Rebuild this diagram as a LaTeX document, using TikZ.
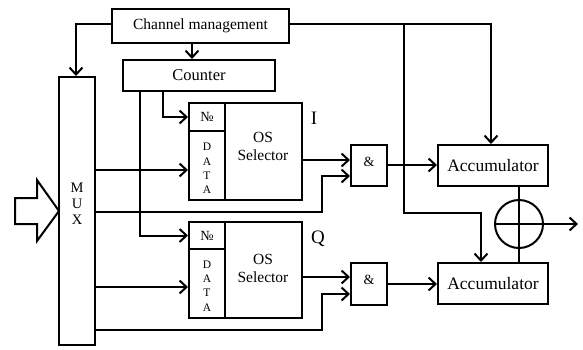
\documentclass[tikz,border=0pt]{standalone}
\usepackage{fontspec}
\setmainfont{Liberation Serif}
\usetikzlibrary{arrows.meta}
\tikzset{
  blk/.style={draw, line width=2pt, rectangle, inner sep=0pt},
  arr/.style={line width=2pt, -{Straight Barb[length=7pt,width=13pt,line width=2pt]}},
  ln/.style={line width=2pt},
  fa/.style={font=\fontsize{15.5}{17}\selectfont},
  fb/.style={font=\fontsize{17.5}{19}\selectfont},
}
\begin{document}
\begin{tikzpicture}[x=1pt,y=-1pt]
\useasboundingbox (0,0) rectangle (583,349);
% boxes
\node[blk, fa, minimum width=177pt, minimum height=34pt] (cm) at (200.5,26) {Channel management};
\node[blk, font=\fontsize{16.5}{18}\selectfont, minimum width=152pt, minimum height=31pt] (cnt) at (199,75.5) {Counter};
\node[blk, minimum width=36pt, minimum height=268pt] (mux) at (77,211) {};
\node[align=center, font=\fontsize{14.5}{16}\selectfont] (muxt) at (77,204) {M\\U\\X};
% I block
\node[blk, font=\fontsize{14}{15}\selectfont, minimum width=36pt, minimum height=28pt] (noI) at (207,117) {№};
\node[blk, minimum width=36pt, minimum height=69pt] (dataI) at (207,165.5) {};
\node[align=center, font=\fontsize{11.5}{14.3}\selectfont] (dataIt) at (207,168.5) {D\\A\\T\\A};
\node[blk, minimum width=77pt, minimum height=97pt] (osI) at (263.5,151.5) {};
\node[align=center, font=\fontsize{15.5}{18}\selectfont] (osIt) at (263,146) {OS\\Selector};
\node[font=\fontsize{19}{20}\selectfont] (lI) at (314,118) {I};
% Q block
\node[blk, font=\fontsize{14}{15}\selectfont, minimum width=36pt, minimum height=27pt] (noQ) at (207,235.5) {№};
\node[blk, minimum width=36pt, minimum height=69pt] (dataQ) at (207,283.5) {};
\node[align=center, font=\fontsize{11.5}{14.3}\selectfont] (dataQt) at (207,286) {D\\A\\T\\A};
\node[blk, minimum width=77pt, minimum height=96pt] (osQ) at (263.5,270) {};
\node[align=center, font=\fontsize{15.5}{18}\selectfont] (osQt) at (263,268.5) {OS\\Selector};
\node[font=\fontsize{19}{20}\selectfont] (lQ) at (318,239) {Q};
% and gates
\node[blk, minimum width=36pt, minimum height=41pt] (andI) at (369,165.5) {};
\node[font=\fontsize{14}{15}\selectfont] (andIt) at (369,162) {\&};
\node[blk, minimum width=36pt, minimum height=42pt] (andQ) at (369,284) {};
\node[font=\fontsize{14}{15}\selectfont] (andQt) at (369,280) {\&};
% accumulators
\node[blk, fb, minimum width=110pt, minimum height=41pt] (accI) at (493,165.5) {Accumulator};
\node[blk, fb, minimum width=110pt, minimum height=41pt] (accQ) at (493,283.5) {Accumulator};
% sum
\node[draw, line width=2pt, circle, minimum size=48pt, inner sep=0pt] (sum) at (519,224) {};
\draw[ln] (sum.north) -- (sum.south) (sum.west) -- (sum.east);
% input arrow
\draw[line width=2pt, line join=miter] (15,198) -- (37,198) -- (37,180) -- (59,211) -- (37,241) -- (37,224) -- (15,224) -- cycle;
% connectors
\coordinate (c1) at (76,24);
\draw[arr] (cm.west |- c1) -| (mux.north -| c1);
\draw[arr] (cm.south -| 192,0) -- (cnt.north -| 192,0);
\coordinate (k1) at (163,0);
\coordinate (k2) at (140,0);
\draw[arr] (cnt.south -| k1) |- (noI.west);
\draw[arr] (cnt.south -| k2) |- (noQ.west);
\draw[arr] (mux.east |- 0,170) -- (dataI.west |- 0,170);
\draw[arr] (mux.east |- 0,287) -- (dataQ.west |- 0,287);
\coordinate (j1) at (322,212);
\coordinate (j2) at (322,330);
\draw[arr] (mux.east |- j1) -- (j1) |- (andI.west |- 0,176);
\draw[arr] (mux.east |- j2) -- (j2) |- (andQ.west |- 0,294);
\draw[arr] (osI.east |- 0,160) -- (andI.west |- 0,160);
\draw[arr] (osQ.east |- 0,277) -- (andQ.west |- 0,277);
\draw[arr] (andI.east |- 0,165) -- (accI.west |- 0,165);
\draw[arr] (andQ.east |- 0,284) -- (accQ.west |- 0,284);
\coordinate (r1) at (491,24);
\coordinate (r2) at (404,24);
\coordinate (r3) at (481,213);
\draw[arr] (cm.east |- r1) -- (r1) -- (accI.north -| r1);
\draw[arr] (r2) |- (r3) -- (accQ.north -| r3);
\draw[ln] (accI.south -| sum.north) -- (sum.north);
\draw[ln] (sum.south) -- (accQ.north -| sum.south);
\coordinate (out) at (578,224);
\draw[arr] (sum.east) -- (out);
\end{tikzpicture}
\end{document}
